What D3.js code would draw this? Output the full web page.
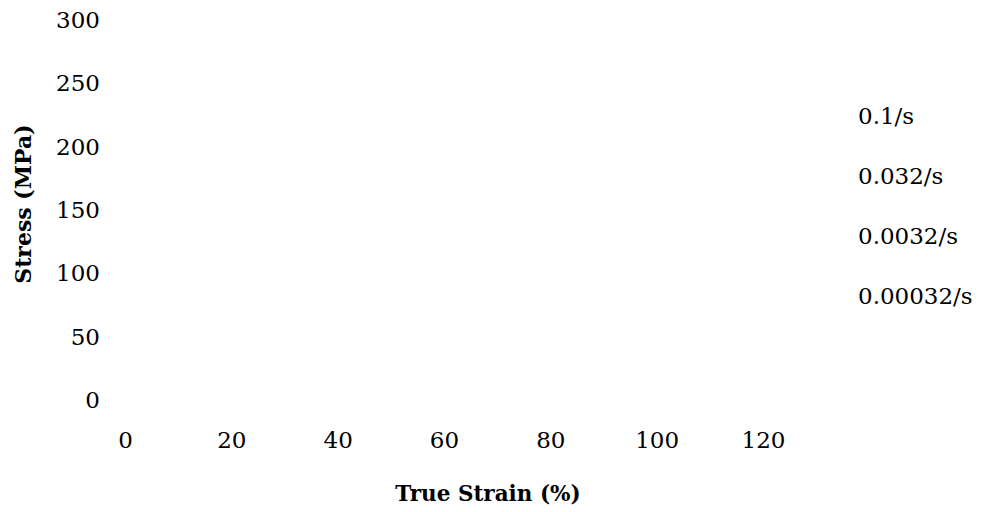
<!DOCTYPE html>
<html>

<head>
	<meta charset="utf-8">
	<title>Stress vs True Strain</title>
	<script src="https://d3js.org/d3.v7.min.js"></script>
	<style>
		body { margin: 0; background: #fff; }
		text { font-family: "DejaVu Serif", serif; fill: #000; }
	</style>
</head>

<body>
	<script>
		// Tick values and legend entries
		const xTicks = [0, 20, 40, 60, 80, 100, 120];
		const yTicks = [0, 50, 100, 150, 200, 250, 300];
		const strainRates = ['0.1/s', '0.032/s', '0.0032/s', '0.00032/s'];

		// The curves are not visible in the original, so the series are empty
		const seriesData = [[], [], [], []];

		const width = 983;
		const height = 512;

		const svg = d3.select('body')
			.append('svg')
			.attr('width', width)
			.attr('height', height);

		const xScale = d3.scaleLinear()
			.domain([0, 120])
			.range([125, 763]);

		const yScale = d3.scaleLinear()
			.domain([0, 300])
			.range([400, 20]);

		// x-axis: labels only, no domain line or ticks
		const xAxis = svg.append('g')
			.attr('transform', 'translate(0, 440)')
			.call(d3.axisBottom(xScale).tickValues(xTicks).tickSize(0).tickPadding(0));
		xAxis.select('.domain').remove();
		xAxis.selectAll('text')
			.attr('dy', '0.35em')
			.style('font-size', '23px')
			.style('font-family', '"DejaVu Serif", serif');

		// y-axis: labels only
		const yAxis = svg.append('g')
			.attr('transform', 'translate(100, 0)')
			.call(d3.axisLeft(yScale).tickValues(yTicks).tickSize(0).tickPadding(0));
		yAxis.select('.domain').remove();
		yAxis.selectAll('text')
			.style('font-size', '23px')
			.style('font-family', '"DejaVu Serif", serif');

		// Series lines (empty)
		const line = d3.line()
			.x(d => xScale(d[0]))
			.y(d => yScale(d[1]));
		svg.selectAll('path.series')
			.data(seriesData)
			.enter()
			.append('path')
			.attr('class', 'series')
			.attr('d', d => d.length ? line(d) : null)
			.attr('fill', 'none');

		// Axis titles
		svg.append('text')
			.attr('x', 488)
			.attr('y', 493)
			.attr('dy', '0.35em')
			.attr('text-anchor', 'middle')
			.style('font-size', '21.5px')
			.style('font-weight', 'bold')
			.text('True Strain (%)');

		svg.append('text')
			.attr('transform', 'translate(23, 204) rotate(-90)')
			.attr('dy', '0.35em')
			.attr('text-anchor', 'middle')
			.style('font-size', '22px')
			.style('font-weight', 'bold')
			.text('Stress (MPa)');

		// Legend (text only)
		svg.selectAll('text.legend')
			.data(strainRates)
			.enter()
			.append('text')
			.attr('class', 'legend')
			.attr('x', 858)
			.attr('y', (d, i) => 116 + i * 60)
			.attr('dy', '0.35em')
			.style('font-size', '23px')
			.text(d => d);
	</script>
</body>

</html>
